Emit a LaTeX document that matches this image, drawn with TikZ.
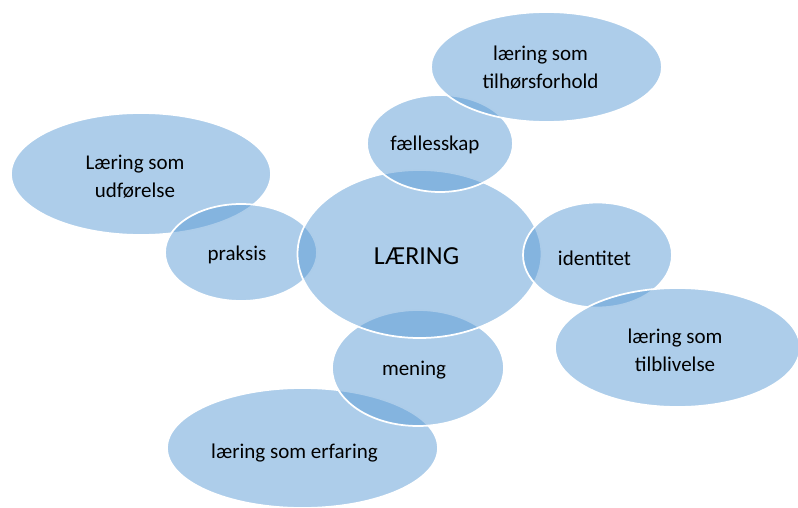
\documentclass[tikz,border=0pt]{standalone}
\usepackage{fontspec}
\setmainfont{Carlito}
\usetikzlibrary{shapes.geometric}
\definecolor{bubfill}{RGB}{91,155,213}
\tikzset{
  bub/.style={ellipse, draw=white, line width=1.75pt, fill=bubfill, fill opacity=0.5, draw opacity=1, inner sep=0pt},
  lbl/.style={align=center, text=black, font=\fontsize{21}{28}\selectfont},
  hub/.style={text=black, font=\fontsize{26}{30}\selectfont}
}
\begin{document}
\begin{tikzpicture}[x=1pt,y=-1pt]
	\useasboundingbox (0,0) rectangle (798,508);
	% outer ring, left and bottom
	\node[bub, minimum width=260pt, minimum height=122pt] (udf) at (141,174) {};
	\node[bub, minimum width=152pt, minimum height=97pt] (praksis) at (241,252.5) {};
	\node[bub, minimum width=271pt, minimum height=120pt] (erfar) at (302.5,448) {};
	\node[bub, minimum width=172pt, minimum height=116pt] (mening) at (418,368) {};
	% centre
	\node[bub, minimum width=244pt, minimum height=168pt] (laering) at (419.5,254) {};
	% top and right
	\node[bub, minimum width=146pt, minimum height=97pt] (faell) at (440,143.5) {};
	\node[bub, minimum width=231pt, minimum height=110pt] (tilhoer) at (546.5,67) {};
	\node[bub, minimum width=149pt, minimum height=105pt] (ident) at (597.5,255) {};
	\node[bub, minimum width=245pt, minimum height=119pt] (tilbl) at (677.5,347.5) {};
	% texts
	\node[hub] (laeringtxt) at ([shift={(-3,2)}]laering.center) {LÆRING};
	\node[lbl] (udftxt) at ([shift={(-6,3)}]udf.center) {Læring som\\udførelse};
	\node[lbl] (praksistxt) at ([shift={(-4,2)}]praksis.center) {praksis};
	\node[lbl] (erfartxt) at ([shift={(-8,5)}]erfar.center) {læring som erfaring};
	\node[lbl] (meningtxt) at ([shift={(-4,2)}]mening.center) {mening};
	\node[lbl] (faelltxt) at ([shift={(-5,1.5)}]faell.center) {fællesskap};
	\node[lbl] (tilhoertxt) at ([shift={(-6,1)}]tilhoer.center) {læring som\\tilhørsforhold};
	\node[lbl] (identtxt) at ([shift={(-3,3)}]ident.center) {identitet};
	\node[lbl] (tilbltxt) at ([shift={(-2.5,2.5)}]tilbl.center) {læring som\\tilblivelse};
\end{tikzpicture}
\end{document}
